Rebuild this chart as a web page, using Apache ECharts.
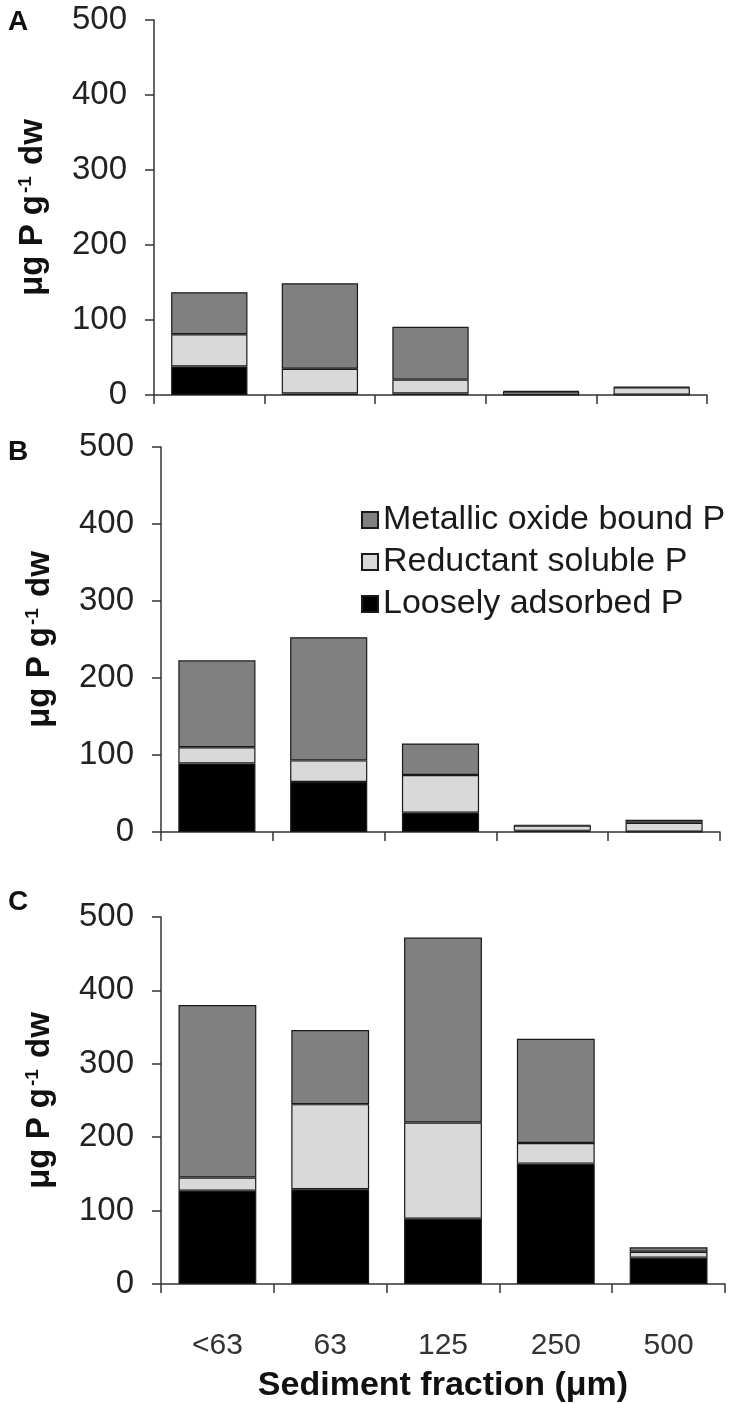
<!DOCTYPE html>
<html>
<head>
<meta charset="utf-8">
<script src="https://cdn.jsdelivr.net/npm/echarts@6/dist/echarts.min.js"></script>
<style>html,body{margin:0;padding:0;background:#fff}#c{width:733px;height:1404px}</style>
</head>
<body>
<div id="c"></div>
<script>
const categories = ['<63', '63', '125', '250', '500'];
const seriesNames = ['Loosely adsorbed P', 'Reductant soluble P', 'Metallic oxide bound P'];
const panelLabels = ['A', 'B', 'C'];
const yTicks = [0, 100, 200, 300, 400, 500];

// Panel A
const looselyA   = [38, 2, 2, 0.5, 0.3];
const reductantA = [43, 33, 18.5, 4, 10];
const metallicA  = [56, 114, 70.5, 0.8, 0.5];
// Panel B
const looselyB   = [89, 65, 25, 1.5, 0.5];
const reductantB = [21, 28, 49, 7, 11.5];
const metallicB  = [113, 160, 41, 0.5, 4];
// Panel C
const looselyC   = [127, 129, 89, 164, 36];
const reductantC = [18, 116, 131, 28, 8];
const metallicC  = [235, 101, 252, 142, 6];

const panels = [
  [looselyA, reductantA, metallicA],
  [looselyB, reductantB, metallicB],
  [looselyC, reductantC, metallicC]
];
const colors = ['#000000', '#d9d9d9', '#808080'];

const FONT = "'Liberation Sans', Arial, sans-serif";
const grids = [
  {left: 154, top: 20, width: 553, height: 375},
  {left: 161, top: 447, width: 559, height: 385},
  {left: 161, top: 917, width: 564, height: 370}
];
const letterY = [8, 438, 888];

const option = {
  animation: false,
  backgroundColor: '#ffffff',
  textStyle: {fontFamily: FONT},
  grid: grids.map(g => Object.assign({containLabel: false}, g)),
  legend: {
    orient: 'vertical',
    left: 356,
    top: 497,
    itemWidth: 16,
    itemHeight: 16,
    itemGap: 6,
    icon: 'rect',
    data: [seriesNames[2], seriesNames[1], seriesNames[0]],
    textStyle: {fontFamily: FONT, fontSize: 34, color: '#1a1a1a', lineHeight: 36},
    selectedMode: false
  },
  graphic: panelLabels.map((t, i) => ({
    type: 'text', left: 8, top: letterY[i],
    style: {text: t, font: "bold 28px 'Liberation Sans', Arial, sans-serif", fill: '#111'}
  })),
  xAxis: [0, 1, 2].map(i => ({
    type: 'category',
    gridIndex: i,
    data: categories,
    axisLine: {lineStyle: {color: '#333', width: 1.5}},
    axisTick: {show: true, length: 9, lineStyle: {color: '#333', width: 1.5}},
    axisLabel: i === 2 ? {show: true, margin: 47, fontSize: 30, color: '#333', fontFamily: FONT} : {show: false},
    name: i === 2 ? 'Sediment fraction (μm)' : '',
    nameLocation: 'middle',
    nameGap: 85,
    nameTextStyle: {fontSize: 34, fontWeight: 'bold', color: '#111', fontFamily: FONT}
  })),
  yAxis: [0, 1, 2].map(i => ({
    type: 'value',
    gridIndex: i,
    min: yTicks[0],
    max: yTicks[yTicks.length - 1],
    interval: 100,
    splitLine: {show: false},
    axisLine: {show: true, lineStyle: {color: '#333', width: 1.5}},
    axisTick: {show: true, length: 9, lineStyle: {color: '#333', width: 1.5}},
    axisLabel: {margin: 27, fontSize: 33, color: '#222', fontFamily: FONT},
    name: '{a|μg P g}{s|-1}{a| dw}',
    nameLocation: 'middle',
    nameGap: 105,
    nameTextStyle: {
      fontFamily: FONT,
      rich: {
        a: {fontSize: 33, fontWeight: 'bold', color: '#111', fontFamily: FONT},
        s: {fontSize: 19, fontWeight: 'bold', color: '#111', fontFamily: FONT, verticalAlign: 'top', padding: [0, 2, 13, 2]}
      }
    }
  })),
  series: []
};

panels.forEach((vals, p) => {
  vals.forEach((arr, k) => {
    option.series.push({
      type: 'bar',
      name: seriesNames[k],
      xAxisIndex: p,
      yAxisIndex: p,
      stack: 'panel' + p,
      barCategoryGap: '31%',
      data: arr,
      itemStyle: {color: colors[k], borderColor: '#1a1a1a', borderWidth: 1.2},
      emphasis: {disabled: true}
    });
  });
});

const chart = echarts.init(document.getElementById('c'), null, {renderer: 'canvas'});
chart.setOption(option);
</script>
</body>
</html>
